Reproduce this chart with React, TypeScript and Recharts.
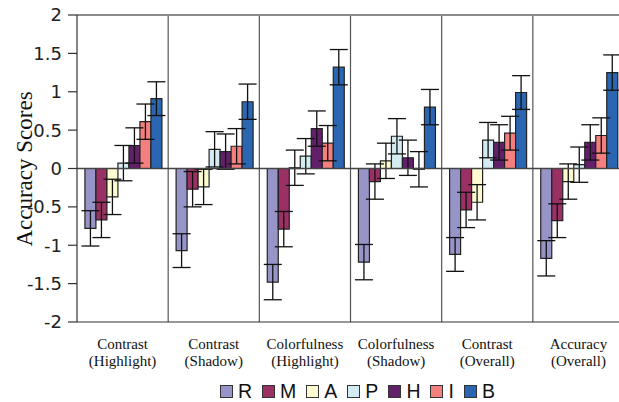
import React from 'react';
import {
  BarChart,
  Bar,
  XAxis,
  YAxis,
  ErrorBar,
  ReferenceLine,
  Legend,
} from 'recharts';

// Values
const categories = [
  'Contrast\n(Highlight)',
  'Contrast\n(Shadow)',
  'Colorfulness\n(Highlight)',
  'Colorfulness\n(Shadow)',
  'Contrast\n(Overall)',
  'Accuracy\n(Overall)',
];

const rValues = [-0.78, -1.07, -1.48, -1.22, -1.12, -1.17];
const mValues = [-0.67, -0.27, -0.79, -0.17, -0.54, -0.68];
const aValues = [-0.37, -0.24, 0.01, 0.1, -0.44, -0.17];
const pValues = [0.07, 0.25, 0.16, 0.42, 0.37, 0.05];
const hValues = [0.3, 0.22, 0.52, 0.14, 0.34, 0.34];
const iValues = [0.61, 0.29, 0.33, -0.01, 0.46, 0.43];
const bValues = [0.91, 0.87, 1.32, 0.8, 0.99, 1.25];

const rErrors = [0.23, 0.22, 0.23, 0.23, 0.22, 0.23];
const mErrors = [0.23, 0.23, 0.23, 0.23, 0.23, 0.22];
const aErrors = [0.23, 0.23, 0.23, 0.23, 0.23, 0.23];
const pErrors = [0.23, 0.23, 0.23, 0.23, 0.23, 0.23];
const hErrors = [0.23, 0.23, 0.23, 0.23, 0.23, 0.23];
const iErrors = [0.23, 0.23, 0.23, 0.23, 0.22, 0.23];
const bErrors = [0.22, 0.23, 0.23, 0.23, 0.22, 0.23];

const yTicks = [-2, -1.5, -1, -0.5, 0, 0.5, 1, 1.5, 2];

const series = [
  { key: 'R', values: rValues, errors: rErrors, color: '#9795c8' },
  { key: 'M', values: mValues, errors: mErrors, color: '#9b3064' },
  { key: 'A', values: aValues, errors: aErrors, color: '#fdfbcf' },
  { key: 'P', values: pValues, errors: pErrors, color: '#d3ecf1' },
  { key: 'H', values: hValues, errors: hErrors, color: '#62206a' },
  { key: 'I', values: iValues, errors: iErrors, color: '#f47f7f' },
  { key: 'B', values: bValues, errors: bErrors, color: '#2b66b2' },
];

const chartData = categories.map((name, idx) => {
  const row: Record<string, string | number> = { name };
  series.forEach((s) => {
    row[s.key] = s.values[idx];
    row[s.key + '_err'] = s.errors[idx];
  });
  return row;
});

function CategoryTick(props: any) {
  const { x, y, payload } = props;
  const lines = String(payload.value).split('\n');
  return (
    <text
      x={x}
      y={y}
      textAnchor="middle"
      fontFamily="'Liberation Serif', 'Times New Roman', serif"
      fontSize={15}
      fill="#111"
    >
      {lines.map((line, i) => (
        <tspan key={i} x={x} dy={i === 0 ? 27 : 16.5}>
          {line}
        </tspan>
      ))}
    </text>
  );
}

function YTitle() {
  return (
    <text
      x={24}
      y={169}
      transform="rotate(-90, 24, 169)"
      textAnchor="middle"
      dominantBaseline="central"
      fontFamily="'Liberation Serif', 'Times New Roman', serif"
      fontSize={23}
      fill="#111"
    >
      Accuracy Scores
    </text>
  );
}

function LegendBox() {
  return (
    <div
      style={{
        display: 'flex',
        alignItems: 'center',
        paddingLeft: 220,
        fontFamily: "'Liberation Sans', Arial, sans-serif",
        fontSize: 19.5,
        color: '#111',
        lineHeight: '19px',
      }}
    >
      {series.map((s) => (
        <div key={s.key} style={{ display: 'flex', alignItems: 'center', marginRight: 10 }}>
          <span
            style={{
              display: 'inline-block',
              width: 11,
              height: 11,
              background: s.color,
              border: '1px solid #333',
              marginRight: 5,
            }}
          />
          <span>{s.key}</span>
        </div>
      ))}
    </div>
  );
}

export default function App() {
  return (
    <div
      style={{
        position: 'fixed',
        left: 0,
        top: 0,
        width: 619,
        height: 402,
        overflow: 'hidden',
        background: '#fff',
      }}
    >
      <BarChart
        width={624}
        height={402}
        data={chartData}
        margin={{ top: 15, right: 0, left: 0, bottom: 20 }}
        barCategoryGap="8.7%"
        barGap={0}
      >
        <XAxis
          dataKey="name"
          height={60}
          interval={0}
          tickLine={false}
          tickSize={0}
          tickMargin={0}
          axisLine={{ stroke: '#333', strokeWidth: 1.2 }}
          tick={<CategoryTick />}
        />
        <YAxis
          width={77}
          domain={[-2, 2]}
          ticks={yTicks}
          interval={0}
          allowDataOverflow
          tickSize={9}
          tickMargin={6}
          axisLine={{ stroke: '#333', strokeWidth: 1.2 }}
          tickLine={{ stroke: '#333', strokeWidth: 1.2 }}
          tick={{ fontFamily: "'DejaVu Sans', Verdana, sans-serif", fontSize: 18, fill: '#222' }}
          label={<YTitle />}
        />
        {categories.slice(1).map((c) => (
          <ReferenceLine key={c} x={c} position="start" stroke="#555" strokeWidth={1.2} />
        ))}
        <ReferenceLine y={2} stroke="#8a8a8a" strokeWidth={2} />
        {series.map((s) => (
          <Bar
            key={s.key}
            dataKey={s.key}
            fill={s.color}
            stroke="#222"
            strokeWidth={1.2}
            isAnimationActive={false}
          >
            <ErrorBar dataKey={s.key + '_err'} width={9} stroke="#111" strokeWidth={1.3} direction="y" />
          </Bar>
        ))}
        <ReferenceLine y={0} stroke="#444" strokeWidth={1.5} />
        <Legend
          layout="horizontal"
          verticalAlign="middle"
          align="center"
          content={<LegendBox />}
          wrapperStyle={{ top: 382, left: 0, width: 619, height: 20 }}
        />
      </BarChart>
    </div>
  );
}
